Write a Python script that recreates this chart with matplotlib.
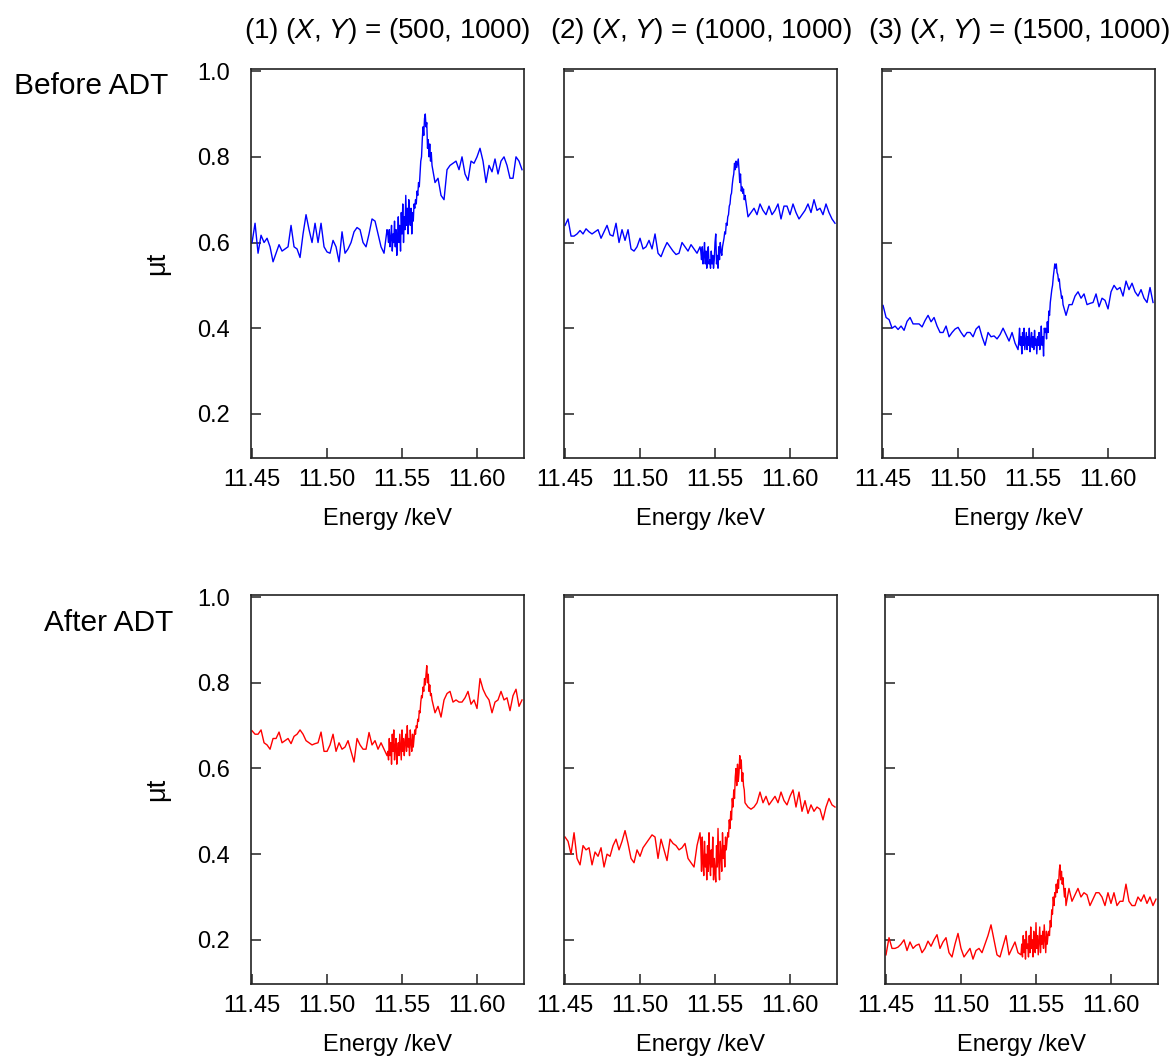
import numpy as np
import matplotlib
matplotlib.use('Agg')
import matplotlib.pyplot as plt

plt.rcParams['font.family'] = ['Liberation Sans', 'DejaVu Sans']
plt.rcParams['mathtext.fontset'] = 'custom'
plt.rcParams['mathtext.rm'] = 'Liberation Sans'
plt.rcParams['mathtext.it'] = 'Liberation Sans:italic'

# energy scan (eV): coarse pre-edge, fine edge region, coarse post-edge
e_pre = [11450, 11452, 11454, 11456, 11458, 11460, 11462, 11464, 11466, 11468,
         11470, 11472, 11474, 11476, 11478, 11480, 11482, 11484, 11486, 11488,
         11490, 11492, 11494, 11496, 11498, 11500, 11502, 11504, 11506, 11508,
         11510, 11512, 11514, 11516, 11518, 11520, 11522, 11524, 11526, 11528,
         11530, 11532, 11534, 11536, 11538, 11540]
e_edge = [11540.5, 11541, 11541.5, 11542, 11542.5, 11543, 11543.5, 11544, 11544.5, 11545,
          11545.5, 11546, 11546.5, 11547, 11547.5, 11548, 11548.5, 11549, 11549.5, 11550,
          11550.5, 11551, 11551.5, 11552, 11552.5, 11553, 11553.5, 11554, 11554.5, 11555,
          11555.5, 11556, 11556.5, 11557, 11557.5, 11558, 11558.5, 11559, 11559.5, 11560,
          11560.5, 11561, 11561.5, 11562, 11562.5, 11563, 11563.5, 11564, 11564.5, 11565,
          11565.5, 11566, 11566.5, 11567, 11567.5, 11568, 11568.5, 11569, 11569.5, 11570]
e_post = [11572, 11574, 11576, 11578, 11580, 11582, 11584, 11586, 11588, 11590,
          11592, 11594, 11596, 11598, 11600, 11602, 11604, 11606, 11608, 11610,
          11612, 11614, 11616, 11618, 11620, 11622, 11624, 11626, 11628, 11630]

# mu t, before ADT, points (1)-(3)
mu_before_1 = [0.600, 0.645, 0.575, 0.617, 0.600, 0.610, 0.590, 0.555, 0.575, 0.595,
               0.580, 0.585, 0.590, 0.640, 0.590, 0.585, 0.565, 0.620, 0.665, 0.630,
               0.600, 0.645, 0.600, 0.645, 0.590, 0.578, 0.575, 0.605, 0.590, 0.555,
               0.625, 0.575, 0.585, 0.600, 0.625, 0.635, 0.630, 0.600, 0.590, 0.620,
               0.655, 0.650, 0.620, 0.590, 0.575, 0.630,
               0.62, 0.60, 0.63, 0.59, 0.61, 0.64, 0.58, 0.62, 0.60, 0.65,
               0.59, 0.63, 0.57, 0.61, 0.66, 0.60, 0.64, 0.58, 0.67, 0.62,
               0.69, 0.60, 0.66, 0.63, 0.71, 0.64, 0.68, 0.62, 0.70, 0.66,
               0.64, 0.68, 0.62, 0.67, 0.65, 0.69, 0.68, 0.70, 0.69, 0.72,
               0.71, 0.74, 0.73, 0.76, 0.79, 0.80, 0.84, 0.87, 0.85, 0.89,
               0.90, 0.87, 0.88, 0.82, 0.84, 0.80, 0.83, 0.79, 0.81, 0.78,
               0.74, 0.75, 0.71, 0.70, 0.77, 0.78, 0.785, 0.79, 0.77, 0.80,
               0.76, 0.745, 0.79, 0.785, 0.80, 0.82, 0.79, 0.74, 0.78, 0.765,
               0.795, 0.76, 0.79, 0.80, 0.78, 0.75, 0.75, 0.80, 0.79, 0.77]
mu_before_2 = [0.640, 0.655, 0.615, 0.615, 0.620, 0.628, 0.620, 0.632, 0.625, 0.620,
               0.625, 0.630, 0.610, 0.625, 0.640, 0.618, 0.615, 0.645, 0.600, 0.630,
               0.605, 0.630, 0.585, 0.580, 0.590, 0.610, 0.585, 0.590, 0.605, 0.585,
               0.620, 0.575, 0.567, 0.585, 0.600, 0.590, 0.580, 0.572, 0.575, 0.600,
               0.590, 0.580, 0.595, 0.585, 0.575, 0.590,
               0.58, 0.56, 0.59, 0.55, 0.57, 0.60, 0.55, 0.58, 0.54, 0.57,
               0.59, 0.55, 0.56, 0.54, 0.58, 0.55, 0.57, 0.54, 0.56, 0.60,
               0.62, 0.55, 0.57, 0.54, 0.59, 0.56, 0.60, 0.58, 0.57, 0.59,
               0.60, 0.61, 0.625, 0.62, 0.645, 0.64, 0.66, 0.665, 0.685, 0.69,
               0.71, 0.715, 0.735, 0.75, 0.76, 0.785, 0.77, 0.79, 0.775, 0.785,
               0.795, 0.77, 0.74, 0.76, 0.72, 0.73, 0.715, 0.725, 0.70, 0.71,
               0.66, 0.67, 0.68, 0.665, 0.69, 0.675, 0.665, 0.685, 0.665, 0.675,
               0.69, 0.655, 0.685, 0.685, 0.665, 0.69, 0.67, 0.655, 0.665, 0.675,
               0.69, 0.67, 0.70, 0.675, 0.68, 0.665, 0.69, 0.67, 0.655, 0.645]
mu_before_3 = [0.453, 0.425, 0.420, 0.400, 0.405, 0.397, 0.405, 0.395, 0.416, 0.425,
               0.410, 0.410, 0.410, 0.403, 0.418, 0.430, 0.415, 0.425, 0.405, 0.390,
               0.390, 0.405, 0.380, 0.390, 0.398, 0.402, 0.390, 0.380, 0.390, 0.390,
               0.380, 0.398, 0.405, 0.380, 0.360, 0.390, 0.380, 0.382, 0.375, 0.385,
               0.400, 0.385, 0.370, 0.390, 0.365, 0.350,
               0.37, 0.40, 0.36, 0.38, 0.34, 0.39, 0.36, 0.40, 0.35, 0.37,
               0.39, 0.35, 0.38, 0.36, 0.40, 0.345, 0.37, 0.39, 0.355, 0.38,
               0.35, 0.395, 0.36, 0.375, 0.34, 0.38, 0.36, 0.39, 0.35, 0.37,
               0.405, 0.36, 0.38, 0.335, 0.40, 0.39, 0.40, 0.375, 0.415, 0.39,
               0.44, 0.43, 0.46, 0.475, 0.49, 0.50, 0.52, 0.535, 0.55, 0.54,
               0.55, 0.53, 0.525, 0.51, 0.515, 0.495, 0.485, 0.47, 0.475, 0.455,
               0.43, 0.455, 0.455, 0.475, 0.485, 0.47, 0.48, 0.455, 0.458, 0.46,
               0.48, 0.45, 0.47, 0.465, 0.445, 0.485, 0.50, 0.49, 0.495, 0.475,
               0.51, 0.49, 0.505, 0.485, 0.475, 0.49, 0.47, 0.46, 0.495, 0.46]

# mu t, after ADT, points (1)-(3)
mu_after_1 = [0.688, 0.680, 0.680, 0.690, 0.660, 0.655, 0.645, 0.670, 0.670, 0.685,
              0.660, 0.665, 0.670, 0.658, 0.675, 0.680, 0.690, 0.680, 0.665, 0.660,
              0.655, 0.658, 0.660, 0.685, 0.640, 0.640, 0.655, 0.680, 0.640, 0.660,
              0.645, 0.650, 0.665, 0.640, 0.615, 0.670, 0.655, 0.645, 0.645, 0.684,
              0.655, 0.665, 0.645, 0.660, 0.645, 0.630,
              0.64, 0.62, 0.67, 0.63, 0.66, 0.61, 0.68, 0.64, 0.69, 0.62,
              0.65, 0.67, 0.61, 0.64, 0.66, 0.63, 0.68, 0.65, 0.62, 0.69,
              0.64, 0.67, 0.63, 0.66, 0.68, 0.64, 0.70, 0.65, 0.67, 0.63,
              0.69, 0.66, 0.64, 0.68, 0.65, 0.67, 0.69, 0.68, 0.70, 0.695,
              0.715, 0.71, 0.735, 0.73, 0.755, 0.77, 0.765, 0.79, 0.78, 0.81,
              0.795, 0.82, 0.84, 0.80, 0.82, 0.78, 0.795, 0.77, 0.775, 0.76,
              0.73, 0.745, 0.72, 0.76, 0.775, 0.78, 0.755, 0.76, 0.755, 0.755,
              0.765, 0.78, 0.75, 0.76, 0.74, 0.81, 0.785, 0.77, 0.76, 0.73,
              0.755, 0.76, 0.78, 0.76, 0.765, 0.735, 0.77, 0.785, 0.745, 0.76]
mu_after_2 = [0.440, 0.430, 0.400, 0.450, 0.390, 0.375, 0.420, 0.410, 0.415, 0.375,
              0.405, 0.395, 0.415, 0.370, 0.400, 0.395, 0.420, 0.435, 0.410, 0.430,
              0.455, 0.425, 0.390, 0.380, 0.410, 0.395, 0.415, 0.425, 0.435, 0.445,
              0.440, 0.390, 0.435, 0.410, 0.385, 0.435, 0.425, 0.420, 0.410, 0.415,
              0.425, 0.390, 0.380, 0.370, 0.420, 0.450,
              0.42, 0.36, 0.44, 0.38, 0.35, 0.43, 0.37, 0.40, 0.34, 0.42,
              0.36, 0.45, 0.38, 0.35, 0.41, 0.37, 0.44, 0.34, 0.39, 0.36,
              0.335, 0.42, 0.37, 0.46, 0.38, 0.34, 0.43, 0.40, 0.36, 0.45,
              0.39, 0.42, 0.37, 0.44, 0.41, 0.43, 0.45, 0.44, 0.48, 0.46,
              0.50, 0.48, 0.53, 0.51, 0.55, 0.53, 0.58, 0.60, 0.56, 0.61,
              0.57, 0.59, 0.63, 0.60, 0.62, 0.57, 0.59, 0.56, 0.55, 0.52,
              0.51, 0.505, 0.51, 0.52, 0.545, 0.52, 0.535, 0.515, 0.525, 0.535,
              0.52, 0.545, 0.525, 0.515, 0.535, 0.55, 0.51, 0.545, 0.50, 0.525,
              0.495, 0.515, 0.50, 0.51, 0.505, 0.48, 0.51, 0.53, 0.515, 0.51]
mu_after_3 = [0.165, 0.205, 0.180, 0.180, 0.183, 0.190, 0.200, 0.175, 0.195, 0.180,
              0.187, 0.190, 0.170, 0.180, 0.197, 0.185, 0.200, 0.212, 0.180, 0.195,
              0.205, 0.170, 0.160, 0.190, 0.215, 0.180, 0.160, 0.170, 0.180, 0.155,
              0.175, 0.180, 0.170, 0.190, 0.210, 0.235, 0.200, 0.165, 0.160, 0.185,
              0.210, 0.165, 0.180, 0.195, 0.170, 0.165,
              0.19, 0.16, 0.21, 0.17, 0.20, 0.155, 0.22, 0.18, 0.19, 0.16,
              0.21, 0.17, 0.23, 0.18, 0.20, 0.16, 0.22, 0.19, 0.17, 0.24,
              0.18, 0.21, 0.165, 0.20, 0.23, 0.17, 0.21, 0.19, 0.22, 0.18,
              0.235, 0.20, 0.17, 0.22, 0.19, 0.21, 0.22, 0.21, 0.245, 0.23,
              0.27, 0.26, 0.30, 0.28, 0.31, 0.30, 0.33, 0.31, 0.34, 0.32,
              0.36, 0.375, 0.34, 0.36, 0.33, 0.345, 0.32, 0.30, 0.32, 0.28,
              0.32, 0.29, 0.305, 0.32, 0.30, 0.31, 0.305, 0.28, 0.295, 0.31,
              0.31, 0.30, 0.28, 0.31, 0.285, 0.31, 0.28, 0.29, 0.29, 0.33,
              0.29, 0.28, 0.28, 0.30, 0.29, 0.305, 0.285, 0.30, 0.28, 0.295]

titles = [r'(1) ($X$, $Y$) = (500, 1000)',
          r'(2) ($X$, $Y$) = (1000, 1000)',
          r'(3) ($X$, $Y$) = (1500, 1000)']
x_ticks = [11.45, 11.50, 11.55, 11.60]
y_ticks = [0.2, 0.4, 0.6, 0.8, 1.0]

energy = np.array(e_pre + e_edge + e_post) / 1000.0  # keV

rows = [([mu_before_1, mu_before_2, mu_before_3], '#0000ff', 0.5667, [0.2138, 0.4804, 0.7513]),
        ([mu_after_1, mu_after_2, mu_after_3], '#ff0000', 0.0691, [0.2138, 0.4804, 0.7538])]

fig = plt.figure(figsize=(11.74, 10.57), dpi=100)

for r, (series, col, bottom, lefts) in enumerate(rows):
    for c in range(3):
        ax = fig.add_axes([lefts[c], bottom, 0.2325, 0.368])
        ax.plot(energy, series[c], color=col, lw=1.0)
        ax.set_xlim(11.4493, 11.6313)
        ax.set_ylim(0.097, 1.005)
        ax.set_xticks(x_ticks)
        ax.set_xticklabels(['%.2f' % t for t in x_ticks])
        ax.set_yticks(y_ticks)
        if c == 0:
            ax.set_yticklabels(['%.1f' % t for t in y_ticks])
            ax.text(-0.344, 0.5, 'μt', rotation=90, fontsize=19.5,
                    ha='center', va='center', transform=ax.transAxes)
        else:
            ax.set_yticklabels([])
        ax.tick_params(direction='in', length=7, width=1.1, labelsize=17, color='#222222')
        ax.tick_params(axis='x', pad=8)
        ax.tick_params(axis='y', pad=15)
        for sp in ax.spines.values():
            sp.set_linewidth(1.2)
            sp.set_color('#222222')
        ax.set_xlabel('Energy /keV', fontsize=17)
        ax.xaxis.set_label_coords(0.5, -0.128)
        if r == 0:
            ax.set_title(titles[c], fontsize=20, pad=22)

fig.text(168 / 1174, 1 - 94 / 1057, 'Before ADT', ha='right', va='baseline', fontsize=21.5)
fig.text(173 / 1174, 1 - 631 / 1057, 'After ADT', ha='right', va='baseline', fontsize=21.5)

fig.savefig('out.png', dpi=100)
